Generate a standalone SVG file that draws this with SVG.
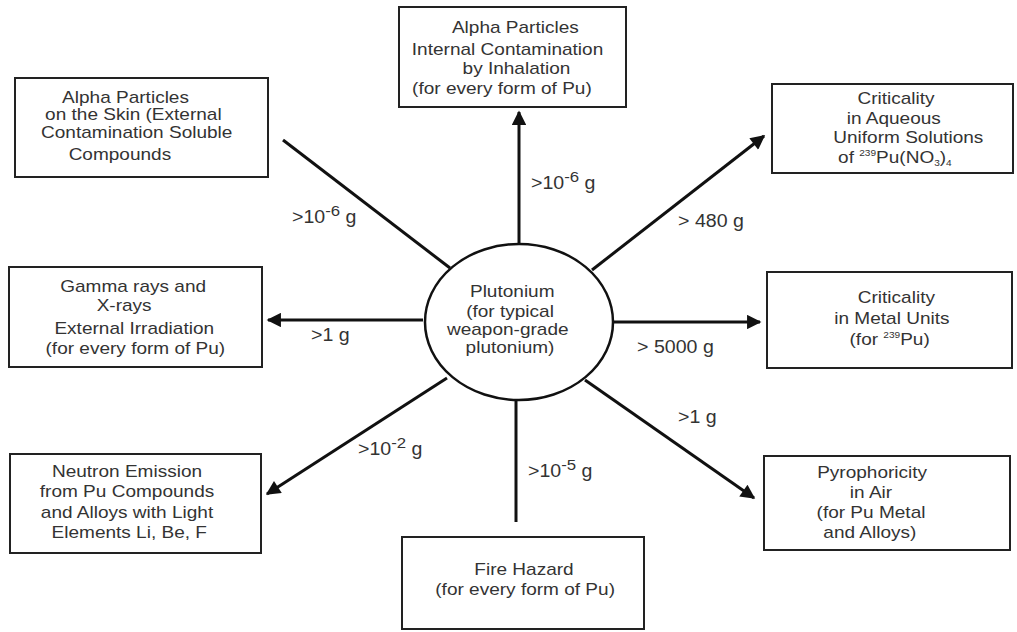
<svg xmlns="http://www.w3.org/2000/svg" width="1017" height="632" viewBox="0 0 1017 632">
<style>
text{font-family:"Liberation Sans",Arial,sans-serif;fill:#333;}
.b text{font-size:17px;text-anchor:middle;}
.box{fill:#fff;stroke:#222;stroke-width:2;}
.c line{stroke:#111;stroke-width:3;}
.lbl{font-size:17.5px;}
.sup{font-size:15px;}
.tiny{font-size:9px;}
</style>
<defs>
<marker id="ah" viewBox="0 0 10 10" refX="9" refY="5" markerWidth="6" markerHeight="4.8" orient="auto" markerUnits="strokeWidth">
<path d="M0,0 L10,5 L0,10 z" fill="#111"/>
</marker>
</defs>
<rect width="1017" height="632" fill="#fff"/>
<g id="connectors" class="c">
<line x1="283" y1="140" x2="450" y2="268"/>
<line x1="519" y1="244" x2="519" y2="112" marker-end="url(#ah)"/>
<line x1="592" y1="270" x2="764" y2="136" marker-end="url(#ah)"/>
<line x1="423" y1="320" x2="268" y2="320" marker-end="url(#ah)"/>
<line x1="613" y1="322" x2="760" y2="322" marker-end="url(#ah)"/>
<line x1="447" y1="378" x2="267" y2="494" marker-end="url(#ah)"/>
<line x1="516" y1="400" x2="516" y2="522"/>
<line x1="585" y1="380" x2="754" y2="498" marker-end="url(#ah)"/>
<g>
<text class="lbl" transform="translate(292 223) scale(1.12 1)">&gt;10<tspan class="sup" dy="-7">-6</tspan><tspan dy="7"> g</tspan></text>
<text class="lbl" transform="translate(531 189) scale(1.12 1)">&gt;10<tspan class="sup" dy="-7">-6</tspan><tspan dy="7"> g</tspan></text>
<text class="lbl" transform="translate(678 227) scale(1.12 1)">&gt; 480 g</text>
<text class="lbl" transform="translate(311 341) scale(1.12 1)">&gt;1 g</text>
<text class="lbl" transform="translate(637 353) scale(1.12 1)">&gt; 5000 g</text>
<text class="lbl" transform="translate(678 423) scale(1.12 1)">&gt;1 g</text>
<text class="lbl" transform="translate(358 455) scale(1.12 1)">&gt;10<tspan class="sup" dy="-7">-2</tspan><tspan dy="7"> g</tspan></text>
<text class="lbl" transform="translate(528 477) scale(1.12 1)">&gt;10<tspan class="sup" dy="-7">-5</tspan><tspan dy="7"> g</tspan></text>
</g>
</g>
<g id="n-skin" class="b">
<rect class="box" x="15" y="78" width="253" height="99"/>
<g transform="translate(130 0) scale(1.12 1)">
<text x="-4" y="103">Alpha Particles</text>
<text x="3" y="120">on the Skin (External</text>
<text x="6" y="138">Contamination Soluble</text>
<text x="-9" y="160">Compounds</text>
</g>
</g>
<g id="n-internal" class="b">
<rect class="box" x="399" y="7" width="227" height="100"/>
<g transform="translate(512 0) scale(1.12 1)">
<text x="3" y="33">Alpha Particles</text>
<text x="-4" y="55">Internal Contamination</text>
<text x="4" y="74">by Inhalation</text>
<text x="-9" y="94">(for every form of Pu)</text>
</g>
</g>
<g id="n-aqueous" class="b">
<rect class="box" x="772" y="84" width="241" height="89"/>
<g transform="translate(896 0) scale(1.12 1)">
<text x="0" y="104">Criticality</text>
<text x="-2" y="124">in Aqueous</text>
<text x="11" y="143">Uniform Solutions</text>
<text x="-1" y="163">of <tspan class="tiny" dy="-7">239</tspan><tspan dy="7">Pu(NO</tspan><tspan class="tiny" dy="3">3</tspan><tspan dy="-3">)</tspan><tspan class="tiny" dy="3">4</tspan></text>
</g>
</g>
<g id="n-gamma" class="b">
<rect class="box" x="9" y="267" width="253" height="100"/>
<g transform="translate(132 0) scale(1.12 1)">
<text x="1" y="292">Gamma rays and</text>
<text x="-7" y="311">X-rays</text>
<text x="2" y="334">External Irradiation</text>
<text x="3" y="354">(for every form of Pu)</text>
</g>
</g>
<g id="n-pu">
<ellipse cx="519" cy="322" rx="94" ry="78" fill="#fff" stroke="#111" stroke-width="2.5"/>
<g class="b" transform="translate(510 0) scale(1.12 1)">
<text x="2" y="297">Plutonium</text>
<text x="0" y="317">(for typical</text>
<text x="-2" y="335">weapon-grade</text>
<text x="0" y="353">plutonium)</text>
</g>
</g>
<g id="n-metal" class="b">
<rect class="box" x="767" y="272" width="245" height="96"/>
<g transform="translate(893 0) scale(1.12 1)">
<text x="3" y="303">Criticality</text>
<text x="-1" y="324">in Metal Units</text>
<text x="-3" y="345">(for <tspan class="tiny" dy="-7">239</tspan><tspan dy="7">Pu)</tspan></text>
</g>
</g>
<g id="n-neutron" class="b">
<rect class="box" x="10" y="454" width="251" height="99"/>
<g transform="translate(127 0) scale(1.12 1)">
<text x="0" y="477">Neutron Emission</text>
<text x="0" y="497">from Pu Compounds</text>
<text x="0" y="518">and Alloys with Light</text>
<text x="2" y="538">Elements Li, Be, F</text>
</g>
</g>
<g id="n-fire" class="b">
<rect class="box" x="402" y="537" width="242" height="92"/>
<g transform="translate(524 0) scale(1.12 1)">
<text x="0" y="575">Fire Hazard</text>
<text x="1" y="595">(for every form of Pu)</text>
</g>
</g>
<g id="n-pyro" class="b">
<rect class="box" x="764" y="456" width="246" height="94"/>
<g transform="translate(871 0) scale(1.12 1)">
<text x="1" y="478">Pyrophoricity</text>
<text x="0" y="498">in Air</text>
<text x="0" y="518">(for Pu Metal</text>
<text x="-1" y="538">and Alloys)</text>
</g>
</g>
</svg>
